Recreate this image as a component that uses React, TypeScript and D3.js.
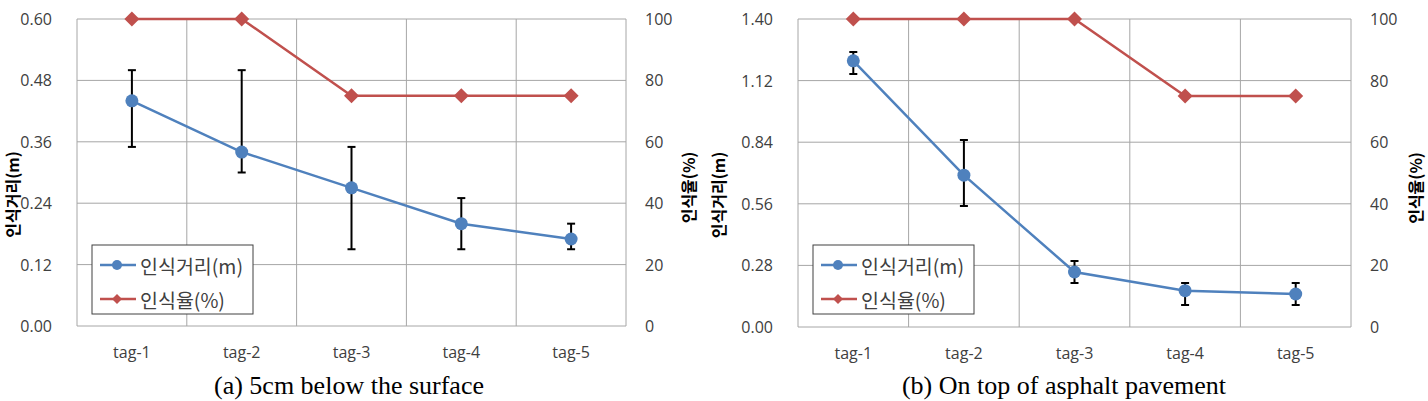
import { useEffect, useRef } from "react";
import * as d3 from "d3";

const TAGS = ["tag-1", "tag-2", "tag-3", "tag-4", "tag-5"];

// (a) 5cm below the surface
const distA = [0.44, 0.34, 0.27, 0.2, 0.17];
const distALow = [0.35, 0.3, 0.15, 0.15, 0.15];
const distAHigh = [0.5, 0.5, 0.35, 0.25, 0.2];
const rateA = [100, 100, 75, 75, 75];
const ticksA = [0, 0.12, 0.24, 0.36, 0.48, 0.6];

// (b) On top of asphalt pavement
const distB = [1.21, 0.69, 0.25, 0.165, 0.15];
const distBLow = [1.15, 0.55, 0.2, 0.1, 0.1];
const distBHigh = [1.25, 0.85, 0.3, 0.2, 0.2];
const rateB = [100, 100, 100, 75, 75];
const ticksB = [0, 0.28, 0.56, 0.84, 1.12, 1.4];

const ticksRate = [0, 20, 40, 60, 80, 100];

const SERIES_DIST = "인식거리(m)";
const SERIES_RATE = "인식율(%)";

const BLUE = "#4f81bd";
const RED = "#c0504d";
const GRID = "#a6a6a6";
const TICK_FONT = "'Open Sans', 'Noto Sans', sans-serif";
const KR_FONT = "'Noto Sans CJK KR', 'Noto Sans', sans-serif";

interface PanelSpec {
  left: number;
  right: number;
  top: number;
  bottom: number;
  dist: number[];
  low: number[];
  high: number[];
  rate: number[];
  ticks: number[];
  leftTitleX: number;
  rightTitleX: number;
  caption: string;
  captionX: number;
}

const PANELS: PanelSpec[] = [
  {
    left: 77, right: 626, top: 19, bottom: 326,
    dist: distA, low: distALow, high: distAHigh, rate: rateA, ticks: ticksA,
    leftTitleX: 12, rightTitleX: 688,
    caption: "(a) 5cm below the surface", captionX: 349,
  },
  {
    left: 798, right: 1351, top: 19, bottom: 327,
    dist: distB, low: distBLow, high: distBHigh, rate: rateB, ticks: ticksB,
    leftTitleX: 718, rightTitleX: 1415,
    caption: "(b) On top of asphalt pavement", captionX: 1064,
  },
];

function diamond(cx: number, cy: number, r: number) {
  return `${cx},${cy - r} ${cx + r},${cy} ${cx},${cy + r} ${cx - r},${cy}`;
}

function drawPanel(svg: d3.Selection<SVGSVGElement, unknown, null, undefined>, p: PanelSpec) {
  const g = svg.append("g");
  const x = d3.scaleBand<string>().domain(TAGS).range([p.left, p.right]);
  const yMax = p.ticks[p.ticks.length - 1];
  const y = d3.scaleLinear().domain([0, yMax]).range([p.bottom, p.top]);
  const y2 = d3.scaleLinear().domain([0, 100]).range([p.bottom, p.top]);
  const cx = (t: string) => (x(t) ?? 0) + x.bandwidth() / 2;

  // gridlines
  g.selectAll(".hg")
    .data(p.ticks)
    .enter()
    .append("line")
    .attr("x1", p.left)
    .attr("x2", p.right)
    .attr("y1", (d) => y(d))
    .attr("y2", (d) => y(d))
    .attr("stroke", GRID)
    .attr("stroke-width", 1);
  const vx = TAGS.map((t) => x(t) ?? 0).concat([p.right]);
  g.selectAll(".vg")
    .data(vx)
    .enter()
    .append("line")
    .attr("x1", (d) => d)
    .attr("x2", (d) => d)
    .attr("y1", p.top)
    .attr("y2", p.bottom)
    .attr("stroke", GRID)
    .attr("stroke-width", 1);

  // left ticks
  g.selectAll(".lt")
    .data(p.ticks)
    .enter()
    .append("text")
    .attr("x", p.left - 25)
    .attr("y", (d) => y(d))
    .attr("text-anchor", "end")
    .attr("dominant-baseline", "central")
    .attr("font-family", TICK_FONT)
    .attr("font-size", "16px")
    .attr("fill", "#404040")
    .text((d) => d3.format(".2f")(d));

  // right ticks
  g.selectAll(".rt")
    .data(ticksRate)
    .enter()
    .append("text")
    .attr("x", p.right + 19)
    .attr("y", (d) => y2(d))
    .attr("text-anchor", "start")
    .attr("dominant-baseline", "central")
    .attr("font-family", TICK_FONT)
    .attr("font-size", "16px")
    .attr("fill", "#404040")
    .text((d) => String(d));

  // category labels
  g.selectAll(".ct")
    .data(TAGS)
    .enter()
    .append("text")
    .attr("x", (d) => cx(d))
    .attr("y", p.bottom + 26)
    .attr("text-anchor", "middle")
    .attr("dominant-baseline", "central")
    .attr("font-family", TICK_FONT)
    .attr("font-size", "16px")
    .attr("fill", "#404040")
    .text((d) => d);

  // axis titles
  const midY = (p.top + p.bottom) / 2;
  g.append("text")
    .attr("transform", `translate(${p.leftTitleX},${midY + 22}) rotate(-90)`)
    .attr("text-anchor", "middle")
    .attr("dominant-baseline", "central")
    .attr("font-family", KR_FONT)
    .attr("font-weight", "bold")
    .attr("font-size", "16px")
    .attr("fill", "#000")
    .text(SERIES_DIST);
  g.append("text")
    .attr("transform", `translate(${p.rightTitleX},${midY + 15}) rotate(-90)`)
    .attr("text-anchor", "middle")
    .attr("dominant-baseline", "central")
    .attr("font-family", KR_FONT)
    .attr("font-weight", "bold")
    .attr("font-size", "16px")
    .attr("fill", "#000")
    .text(SERIES_RATE);

  // error bars
  TAGS.forEach((t, i) => {
    const px = cx(t);
    g.append("line")
      .attr("x1", px).attr("x2", px)
      .attr("y1", y(p.low[i])).attr("y2", y(p.high[i]))
      .attr("stroke", "#000").attr("stroke-width", 2);
    [p.low[i], p.high[i]].forEach((v) => {
      g.append("line")
        .attr("x1", px - 4).attr("x2", px + 4)
        .attr("y1", y(v)).attr("y2", y(v))
        .attr("stroke", "#000").attr("stroke-width", 2);
    });
  });

  // distance line
  const lineDist = d3.line<number>().x((_, i) => cx(TAGS[i])).y((d) => y(d));
  g.append("path")
    .attr("d", lineDist(p.dist) ?? "")
    .attr("fill", "none")
    .attr("stroke", BLUE)
    .attr("stroke-width", 2.5);
  g.selectAll(".dm")
    .data(p.dist)
    .enter()
    .append("circle")
    .attr("cx", (_, i) => cx(TAGS[i]))
    .attr("cy", (d) => y(d))
    .attr("r", 6.5)
    .attr("fill", BLUE);

  // rate line
  const lineRate = d3.line<number>().x((_, i) => cx(TAGS[i])).y((d) => y2(d));
  g.append("path")
    .attr("d", lineRate(p.rate) ?? "")
    .attr("fill", "none")
    .attr("stroke", RED)
    .attr("stroke-width", 2.5);
  g.selectAll(".rm")
    .data(p.rate)
    .enter()
    .append("polygon")
    .attr("points", (d, i) => diamond(cx(TAGS[i]), y2(d), 7.5))
    .attr("fill", RED);

  // legend
  const lx = p.left + 15;
  const ly = 245;
  g.append("rect")
    .attr("x", lx)
    .attr("y", ly)
    .attr("width", 161)
    .attr("height", 69)
    .attr("fill", "#fff")
    .attr("stroke", "#404040")
    .attr("stroke-width", 1);
  const items = [
    { label: SERIES_DIST, color: BLUE, marker: "circle" },
    { label: SERIES_RATE, color: RED, marker: "diamond" },
  ];
  items.forEach((it, i) => {
    const iy = ly + 20 + i * 34;
    g.append("line")
      .attr("x1", lx + 8).attr("x2", lx + 44)
      .attr("y1", iy).attr("y2", iy)
      .attr("stroke", it.color).attr("stroke-width", 2.5);
    if (it.marker === "circle") {
      g.append("circle").attr("cx", lx + 25).attr("cy", iy).attr("r", 5).attr("fill", it.color);
    } else {
      g.append("polygon").attr("points", diamond(lx + 25, iy, 5)).attr("fill", it.color);
    }
    g.append("text")
      .attr("x", lx + 48)
      .attr("y", iy)
      .attr("dominant-baseline", "central")
      .attr("font-family", KR_FONT)
      .attr("font-size", "19.5px")
      .attr("fill", "#404040")
      .text(it.label);
  });

  // caption
  g.append("text")
    .attr("x", p.captionX)
    .attr("y", 394)
    .attr("text-anchor", "middle")
    .attr("font-family", "'Liberation Serif', 'Times New Roman', serif")
    .attr("font-size", "26px")
    .attr("fill", "#000")
    .text(p.caption);
}

export default function App() {
  const svgRef = useRef<SVGSVGElement>(null);

  useEffect(() => {
    const svg = d3.select(svgRef.current as SVGSVGElement);
    svg.selectAll("*").remove();
    svg.append("rect").attr("width", 1428).attr("height", 401).attr("fill", "#fff");
    PANELS.forEach((p) => drawPanel(svg, p));
  }, []);

  return (
    <svg
      ref={svgRef}
      width={1428}
      height={401}
      style={{ position: "absolute", left: 0, top: 0, display: "block" }}
    />
  );
}
